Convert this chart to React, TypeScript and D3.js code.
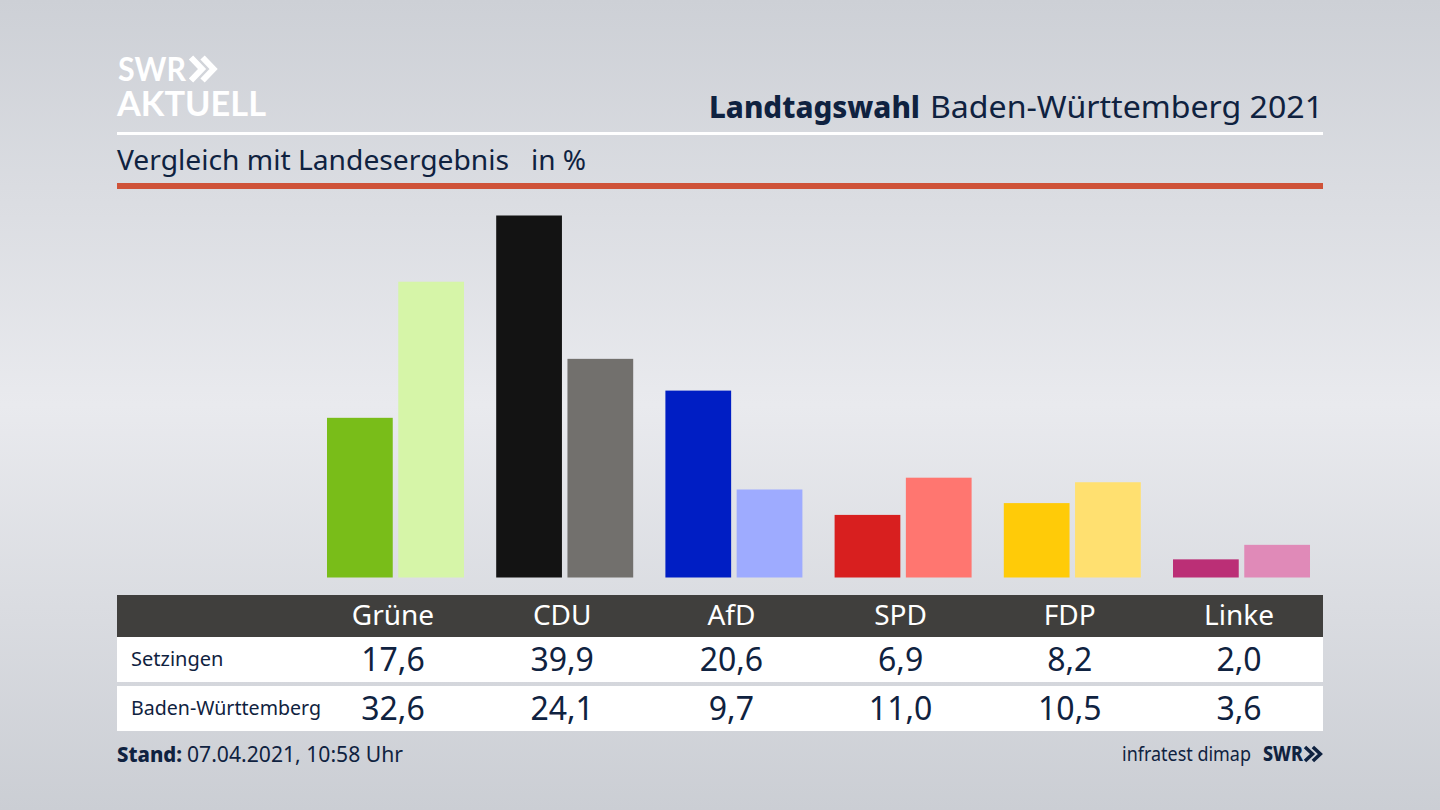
import * as d3 from 'd3';

const parties = ['Grüne', 'CDU', 'AfD', 'SPD', 'FDP', 'Linke'];
const setzingen = [17.6, 39.9, 20.6, 6.9, 8.2, 2.0];
const land = [32.6, 24.1, 9.7, 11.0, 10.5, 3.6];
const setzingenColors = ['#79bd19', '#131313', '#001ec4', '#d81f1f', '#ffcb08', '#bb2f76'];
const landColors = ['#d6f5a8', '#72706d', '#9eabff', '#ff7670', '#ffe070', '#e08ab8'];
const rows = [
  { label: 'Setzingen', values: setzingen },
  { label: 'Baden-Württemberg', values: land },
];

const navy = '#0f2240';
const font = '"Noto Sans", sans-serif';
const fmt = (v: number) => v.toFixed(1).replace('.', ',');

const x = d3.scaleBand<string>().domain(parties).range([308.4, 1323.6]);
const y = d3.scaleLinear().domain([0, 39.9]).range([577.5, 215.5]);
// the two bars of a party sit around the centre of its table column
const inner = d3.scaleBand<string>().domain(['s', 'l']).range([-66, 71]).paddingInner(5.5 / 71);
const center = (p: string) => (x(p) as number) + x.bandwidth() / 2;

const chevrons = (cx: number, cy: number, h: number, w: number) => {
  const line = d3.line();
  return [0, w * 1.05].map(dx =>
    line([[cx + dx, cy - h / 2], [cx + dx + w, cy], [cx + dx, cy + h / 2]]) as string);
};

const App = () => (
  <svg width={1440} height={810} style={{ position: 'fixed', left: 0, top: 0 }} fontFamily={font}>
    <defs>
      <linearGradient id="bg" x1="0" y1="0" x2="0" y2="1">
        <stop offset="0" stopColor="#cdd0d6" />
        <stop offset="0.5" stopColor="#e9eaee" />
        <stop offset="1" stopColor="#cbced4" />
      </linearGradient>
    </defs>
    <rect width={1440} height={810} fill="url(#bg)" />

    <text x={118} y={81} fontFamily="Lato, sans-serif" fontSize={33} fontWeight={700} fill="#fff" textLength={68} lengthAdjust="spacingAndGlyphs">SWR</text>
    {chevrons(191, 69, 23, 11).map((d, i) => (
      <path key={i} d={d} fill="none" stroke="#fff" strokeWidth={6} />
    ))}
    <text x={117} y={116} fontFamily="Lato, sans-serif" fontSize={34} fontWeight={700} fill="#fff" textLength={149} lengthAdjust="spacingAndGlyphs">AKTUELL</text>

    <text x={709} y={118} fontSize={31} fontWeight={800} fill={navy} textLength={211} lengthAdjust="spacingAndGlyphs">Landtagswahl</text>
    <text x={930} y={118} fontSize={31} fill={navy} textLength={393} lengthAdjust="spacingAndGlyphs">Baden-Württemberg 2021</text>
    <rect x={117} y={132} width={1206} height={3} fill="#fff" />
    <text x={117} y={170} fontSize={28} fill={navy} textLength={392} lengthAdjust="spacingAndGlyphs">Vergleich mit Landesergebnis</text>
    <text x={531} y={170} fontSize={28} fill={navy}>in %</text>
    <rect x={117} y={183} width={1206} height={6} fill="#cf5238" />

    {parties.map((p, i) => (
      <g key={p} transform={`translate(${center(p)},0)`}>
        <rect x={inner('s')} y={y(setzingen[i])} width={inner.bandwidth()} height={y(0) - y(setzingen[i])} fill={setzingenColors[i]} />
        <rect x={inner('l')} y={y(land[i])} width={inner.bandwidth()} height={y(0) - y(land[i])} fill={landColors[i]} />
      </g>
    ))}

    <rect x={117} y={595} width={1206} height={42} fill="#403f3d" />
    {parties.map(p => (
      <text key={p} x={center(p)} y={625} textAnchor="middle" fontSize={28} fill="#fff">{p}</text>
    ))}

    {rows.map((r, ri) => {
      const top = ri === 0 ? 637 : 686;
      return (
        <g key={r.label}>
          <rect x={117} y={top} width={1206} height={45} fill="#fff" />
          <text x={131} y={top + 29} fontSize={20} fill={navy} textLength={r.label.length > 10 ? 190 : undefined} lengthAdjust="spacingAndGlyphs">{r.label}</text>
          {r.values.map((v, i) => (
            <text key={parties[i]} x={center(parties[i])} y={top + 34} textAnchor="middle" fontSize={32} fill={navy}>{fmt(v)}</text>
          ))}
        </g>
      );
    })}

    <text x={117} y={762} fontSize={22} fontWeight={800} fill={navy} textLength={65} lengthAdjust="spacingAndGlyphs">Stand:</text>
    <text x={187} y={762} fontSize={22} fill={navy} textLength={216} lengthAdjust="spacingAndGlyphs">07.04.2021, 10:58 Uhr</text>
    <text x={1251} y={761} textAnchor="end" fontSize={20} fill={navy} textLength={129} lengthAdjust="spacingAndGlyphs">infratest dimap</text>
    <text x={1263} y={761} fontSize={22} fontWeight={800} fill={navy} textLength={40} lengthAdjust="spacingAndGlyphs">SWR</text>
    {chevrons(1305, 754, 14, 7.5).map((d, i) => (
      <path key={i} d={d} fill="none" stroke={navy} strokeWidth={3.5} />
    ))}
  </svg>
);

export default App;
